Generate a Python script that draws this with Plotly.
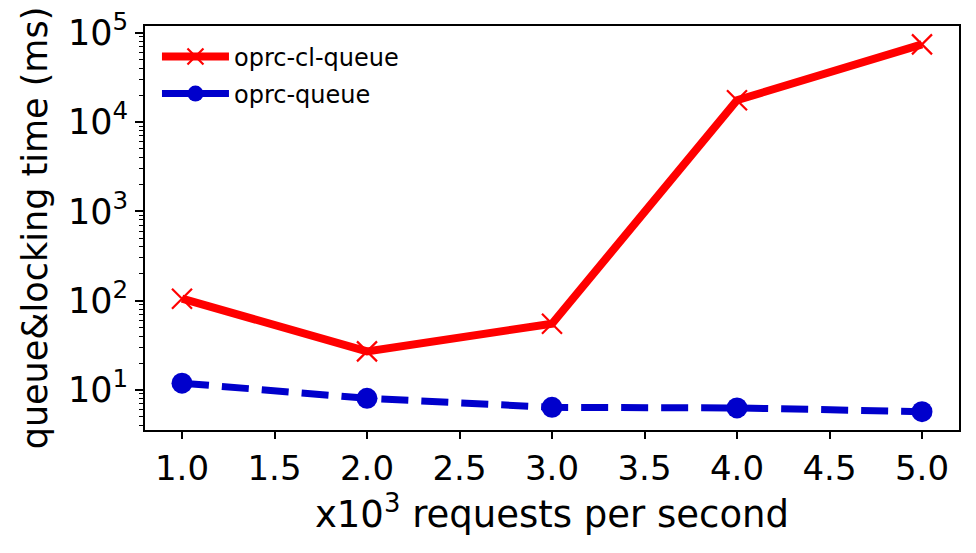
import plotly.graph_objects as go

x_vals = [1.0, 2.0, 3.0, 4.0, 5.0]
cl_queue = [105, 27, 55, 17500, 73800]
queue = [11.9, 8.05, 6.38, 6.28, 5.71]
x_ticks = [1.0, 1.5, 2.0, 2.5, 3.0, 3.5, 4.0, 4.5, 5.0]
x_ticktext = ["1.0", "1.5", "2.0", "2.5", "3.0", "3.5", "4.0", "4.5", "5.0"]
y_ticks = [10, 100, 1000, 10000, 100000]
y_ticktext = ["10<sup>1</sup>", "10<sup>2</sup>", "10<sup>3</sup>", "10<sup>4</sup>", "10<sup>5</sup>"]
minor_digits = [2, 3, 4, 5, 6, 7, 8, 9]
minor_decades = [1, 10, 100, 1000, 10000, 100000]

minor_vals = [d * m for m in minor_decades for d in minor_digits]

FONT = "DejaVu Sans"

fig = go.Figure()
fig.add_trace(go.Scatter(
    x=x_vals, y=cl_queue, name="oprc-cl-queue", mode="lines+markers",
    line=dict(color="#ff0000", width=8),
    marker=dict(symbol="x-thin", size=20, color="#ff0000",
                line=dict(color="#ff0000", width=2.2)),
    legend="legend",
))
fig.add_trace(go.Scatter(
    x=x_vals, y=queue, name="oprc-queue", mode="lines+markers",
    line=dict(color="#0000cc", width=7, dash="27px,13px"),
    marker=dict(symbol="circle", size=21, color="#0000cc"),
    legend="legend2",
))

leg_common = dict(xanchor="left", yanchor="middle", bgcolor="rgba(0,0,0,0)",
                  font=dict(size=24, family=FONT), itemwidth=67)

fig.update_layout(
    width=968, height=545, autosize=False,
    margin=dict(l=137, r=17, t=18, b=123),
    paper_bgcolor="white", plot_bgcolor="white",
    font=dict(family=FONT, color="black", size=34),
    showlegend=True,
    legend=dict(x=0.0147, y=0.9233, **leg_common),
    legend2=dict(x=0.0147, y=0.8317, **leg_common),
)
fig.update_xaxes(
    range=[0.8, 5.2], tickvals=x_ticks, ticktext=x_ticktext,
    automargin=False,
    showgrid=False, zeroline=False,
    showline=True, linecolor="black", linewidth=1.6, mirror=True,
    ticks="outside", ticklen=7, tickwidth=1.5, tickcolor="black",
    tickfont=dict(size=34, family=FONT),
    title=dict(text="x10<sup>3</sup> requests per second", font=dict(size=37, family=FONT), standoff=12),
)
fig.update_yaxes(
    type="log", range=[0.551, 5.074], tickvals=y_ticks, ticktext=y_ticktext,
    automargin=False, ticklabeloverflow="allow",
    showgrid=False, zeroline=False,
    showline=True, linecolor="black", linewidth=1.6, mirror=True,
    ticks="outside", ticklen=8, tickwidth=1.5, tickcolor="black",
    tickfont=dict(size=35, family=FONT),
    minor=dict(tickvals=minor_vals, ticks="outside", ticklen=4, tickwidth=1.2,
               tickcolor="black", showgrid=False),
    title=dict(text="queue&locking time (ms)", font=dict(size=35, family=FONT), standoff=10),
)

fig.write_html("out.html")
